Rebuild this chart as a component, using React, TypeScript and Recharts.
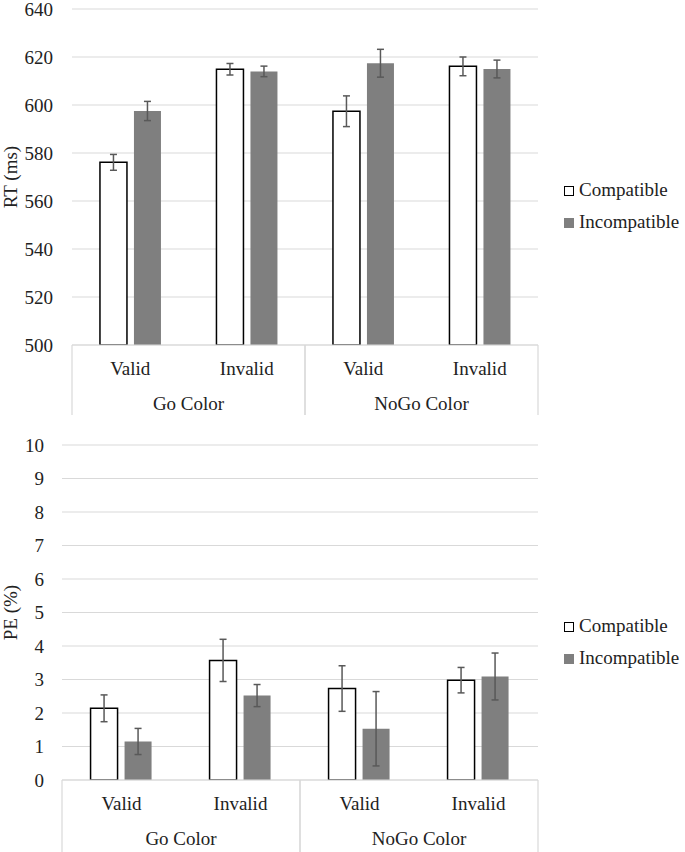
import React from "react";
import { Bar, BarChart, CartesianGrid, ErrorBar, XAxis, YAxis } from "recharts";

const conditions = ["Valid", "Invalid", "Valid", "Invalid"];
const groups = ["Go Color", "Go Color", "NoGo Color", "NoGo Color"];

// RT (ms)
const rtCompatible = [576.1, 614.9, 597.4, 616.1];
const rtCompatibleErr = [3.3, 2.4, 6.4, 3.9];
const rtIncompatible = [597.5, 614.0, 617.4, 615.0];
const rtIncompatibleErr = [4.0, 2.2, 5.8, 3.7];
const rtTicks = [500, 520, 540, 560, 580, 600, 620, 640];

// PE (%)
const peCompatible = [2.14, 3.57, 2.73, 2.98];
const peCompatibleErr = [0.4, 0.63, 0.68, 0.38];
const peIncompatible = [1.15, 2.52, 1.53, 3.09];
const peIncompatibleErr = [0.39, 0.33, 1.11, 0.7];
const peTicks = [0, 1, 2, 3, 4, 5, 6, 7, 8, 9, 10];

const FONT = "Liberation Serif, DejaVu Serif, Times New Roman, serif";
const TEXT = "#222";
const GRID = "#d9d9d9";
const GRAY = "#7f7f7f";

const makeRows = (comp: number[], compErr: number[], incomp: number[], incompErr: number[]) =>
  conditions.map((cond, i) => ({
    cond,
    group: groups[i],
    comp: comp[i],
    compErr: compErr[i],
    incomp: incomp[i],
    incompErr: incompErr[i],
  }));

const textStyle = { fontFamily: FONT, fontSize: 19 };

const CondTick = (props: any) => {
  const { x, y, payload } = props;
  return (
    <text x={x} y={y + 15} textAnchor="middle" dominantBaseline="central" fill={TEXT} style={textStyle}>
      {payload.value}
    </text>
  );
};

const GroupTick = (props: any) => {
  const { x, y, payload, bandWidth, lineEnd } = props;
  const top = y - 43;
  const bottom = y + 27 + lineEnd;
  return (
    <g>
      <line x1={x - bandWidth / 2} x2={x - bandWidth / 2} y1={top} y2={bottom} stroke={GRID} strokeWidth={1.2} />
      <line x1={x + bandWidth / 2} x2={x + bandWidth / 2} y1={top} y2={bottom} stroke={GRID} strokeWidth={1.2} />
      <text x={x} y={y + 15} textAnchor="middle" dominantBaseline="central" fill={TEXT} style={textStyle}>
        {payload.value}
      </text>
    </g>
  );
};

const ValueTick = (props: any) => {
  const { x, y, payload } = props;
  return (
    <text x={x} y={y} textAnchor="end" dominantBaseline="central" fill={TEXT} style={textStyle}>
      {payload.value}
    </text>
  );
};

const AxisTitle = (props: any) => {
  const { viewBox, text } = props;
  const cx = viewBox.x + 10;
  const cy = viewBox.y + viewBox.height / 2;
  return (
    <text
      x={cx}
      y={cy}
      transform={`rotate(-90, ${cx}, ${cy})`}
      textAnchor="middle"
      dominantBaseline="central"
      fill={TEXT}
      style={textStyle}
    >
      {text}
    </text>
  );
};

const legendItems = [
  { name: "Compatible", fill: "#fff", border: "1px solid #000" },
  { name: "Incompatible", fill: GRAY, border: "1px solid " + GRAY },
];

const LegendBox = ({ top }: { top: number }) => (
  <div style={{ position: "absolute", left: 564, top, fontFamily: FONT, fontSize: 19, color: TEXT, lineHeight: "32px" }}>
    {legendItems.map((s) => (
      <div key={s.name} style={{ display: "flex", alignItems: "center", height: 32 }}>
        <span style={{ width: 8, height: 8, background: s.fill, border: s.border, marginRight: 5, marginTop: 1 }} />
        <span>{s.name}</span>
      </div>
    ))}
  </div>
);

interface PanelProps {
  data: ReturnType<typeof makeRows>;
  ticks: number[];
  title: string;
  height: number;
  marginTop: number;
  marginBottom: number;
  yWidth: number;
  tickMargin: number;
  lineEnd: number;
}

const Panel = ({ data, ticks, title, height, marginTop, marginBottom, yWidth, tickMargin, lineEnd }: PanelProps) => {
  const right = 147;
  const plotWidth = 685 - yWidth - right;
  return (
    <BarChart
      width={685}
      height={height}
      data={data}
      margin={{ top: marginTop, right, bottom: marginBottom, left: 0 }}
      barCategoryGap="24%"
      barGap={7}
    >
      <CartesianGrid vertical={false} stroke={GRID} strokeWidth={1.2} />
      <XAxis dataKey="cond" height={35} tickLine={false} axisLine={{ stroke: GRID, strokeWidth: 1.2 }} tick={<CondTick />} />
      <XAxis
        xAxisId="group"
        dataKey="group"
        allowDuplicatedCategory={false}
        height={35}
        tickLine={false}
        axisLine={false}
        tick={<GroupTick bandWidth={plotWidth / 2} lineEnd={lineEnd} />}
      />
      <YAxis
        width={yWidth}
        domain={[ticks[0], ticks[ticks.length - 1]]}
        ticks={ticks}
        allowDataOverflow
        axisLine={false}
        tickLine={false}
        tickMargin={tickMargin}
        tick={<ValueTick />}
        label={<AxisTitle text={title} />}
      />
      <Bar dataKey="comp" name="Compatible" fill="#fff" stroke="#000" strokeWidth={1.5} isAnimationActive={false}>
        <ErrorBar dataKey="compErr" stroke="#595959" strokeWidth={1.5} width={3.5} isAnimationActive={false} />
      </Bar>
      <Bar dataKey="incomp" name="Incompatible" fill={GRAY} isAnimationActive={false}>
        <ErrorBar dataKey="incompErr" stroke="#595959" strokeWidth={1.5} width={3.5} isAnimationActive={false} />
      </Bar>
    </BarChart>
  );
};

const rtRows = makeRows(rtCompatible, rtCompatibleErr, rtIncompatible, rtIncompatibleErr);
const peRows = makeRows(peCompatible, peCompatibleErr, peIncompatible, peIncompatibleErr);

export default function App() {
  return (
    <div style={{ position: "absolute", left: 0, top: 0, width: 685, height: 852, background: "#fff" }}>
      <div style={{ position: "absolute", left: 0, top: 0 }}>
        <Panel
          data={rtRows}
          ticks={rtTicks}
          title="RT (ms)"
          height={420}
          marginTop={9}
          marginBottom={5}
          yWidth={72}
          tickMargin={13}
          lineEnd={0}
        />
        <LegendBox top={174} />
      </div>
      <div style={{ position: "absolute", left: 0, top: 420 }}>
        <Panel
          data={peRows}
          ticks={peTicks}
          title="PE (%)"
          height={432}
          marginTop={25}
          marginBottom={2}
          yWidth={62}
          tickMargin={12}
          lineEnd={2}
        />
        <LegendBox top={190} />
      </div>
    </div>
  );
}
